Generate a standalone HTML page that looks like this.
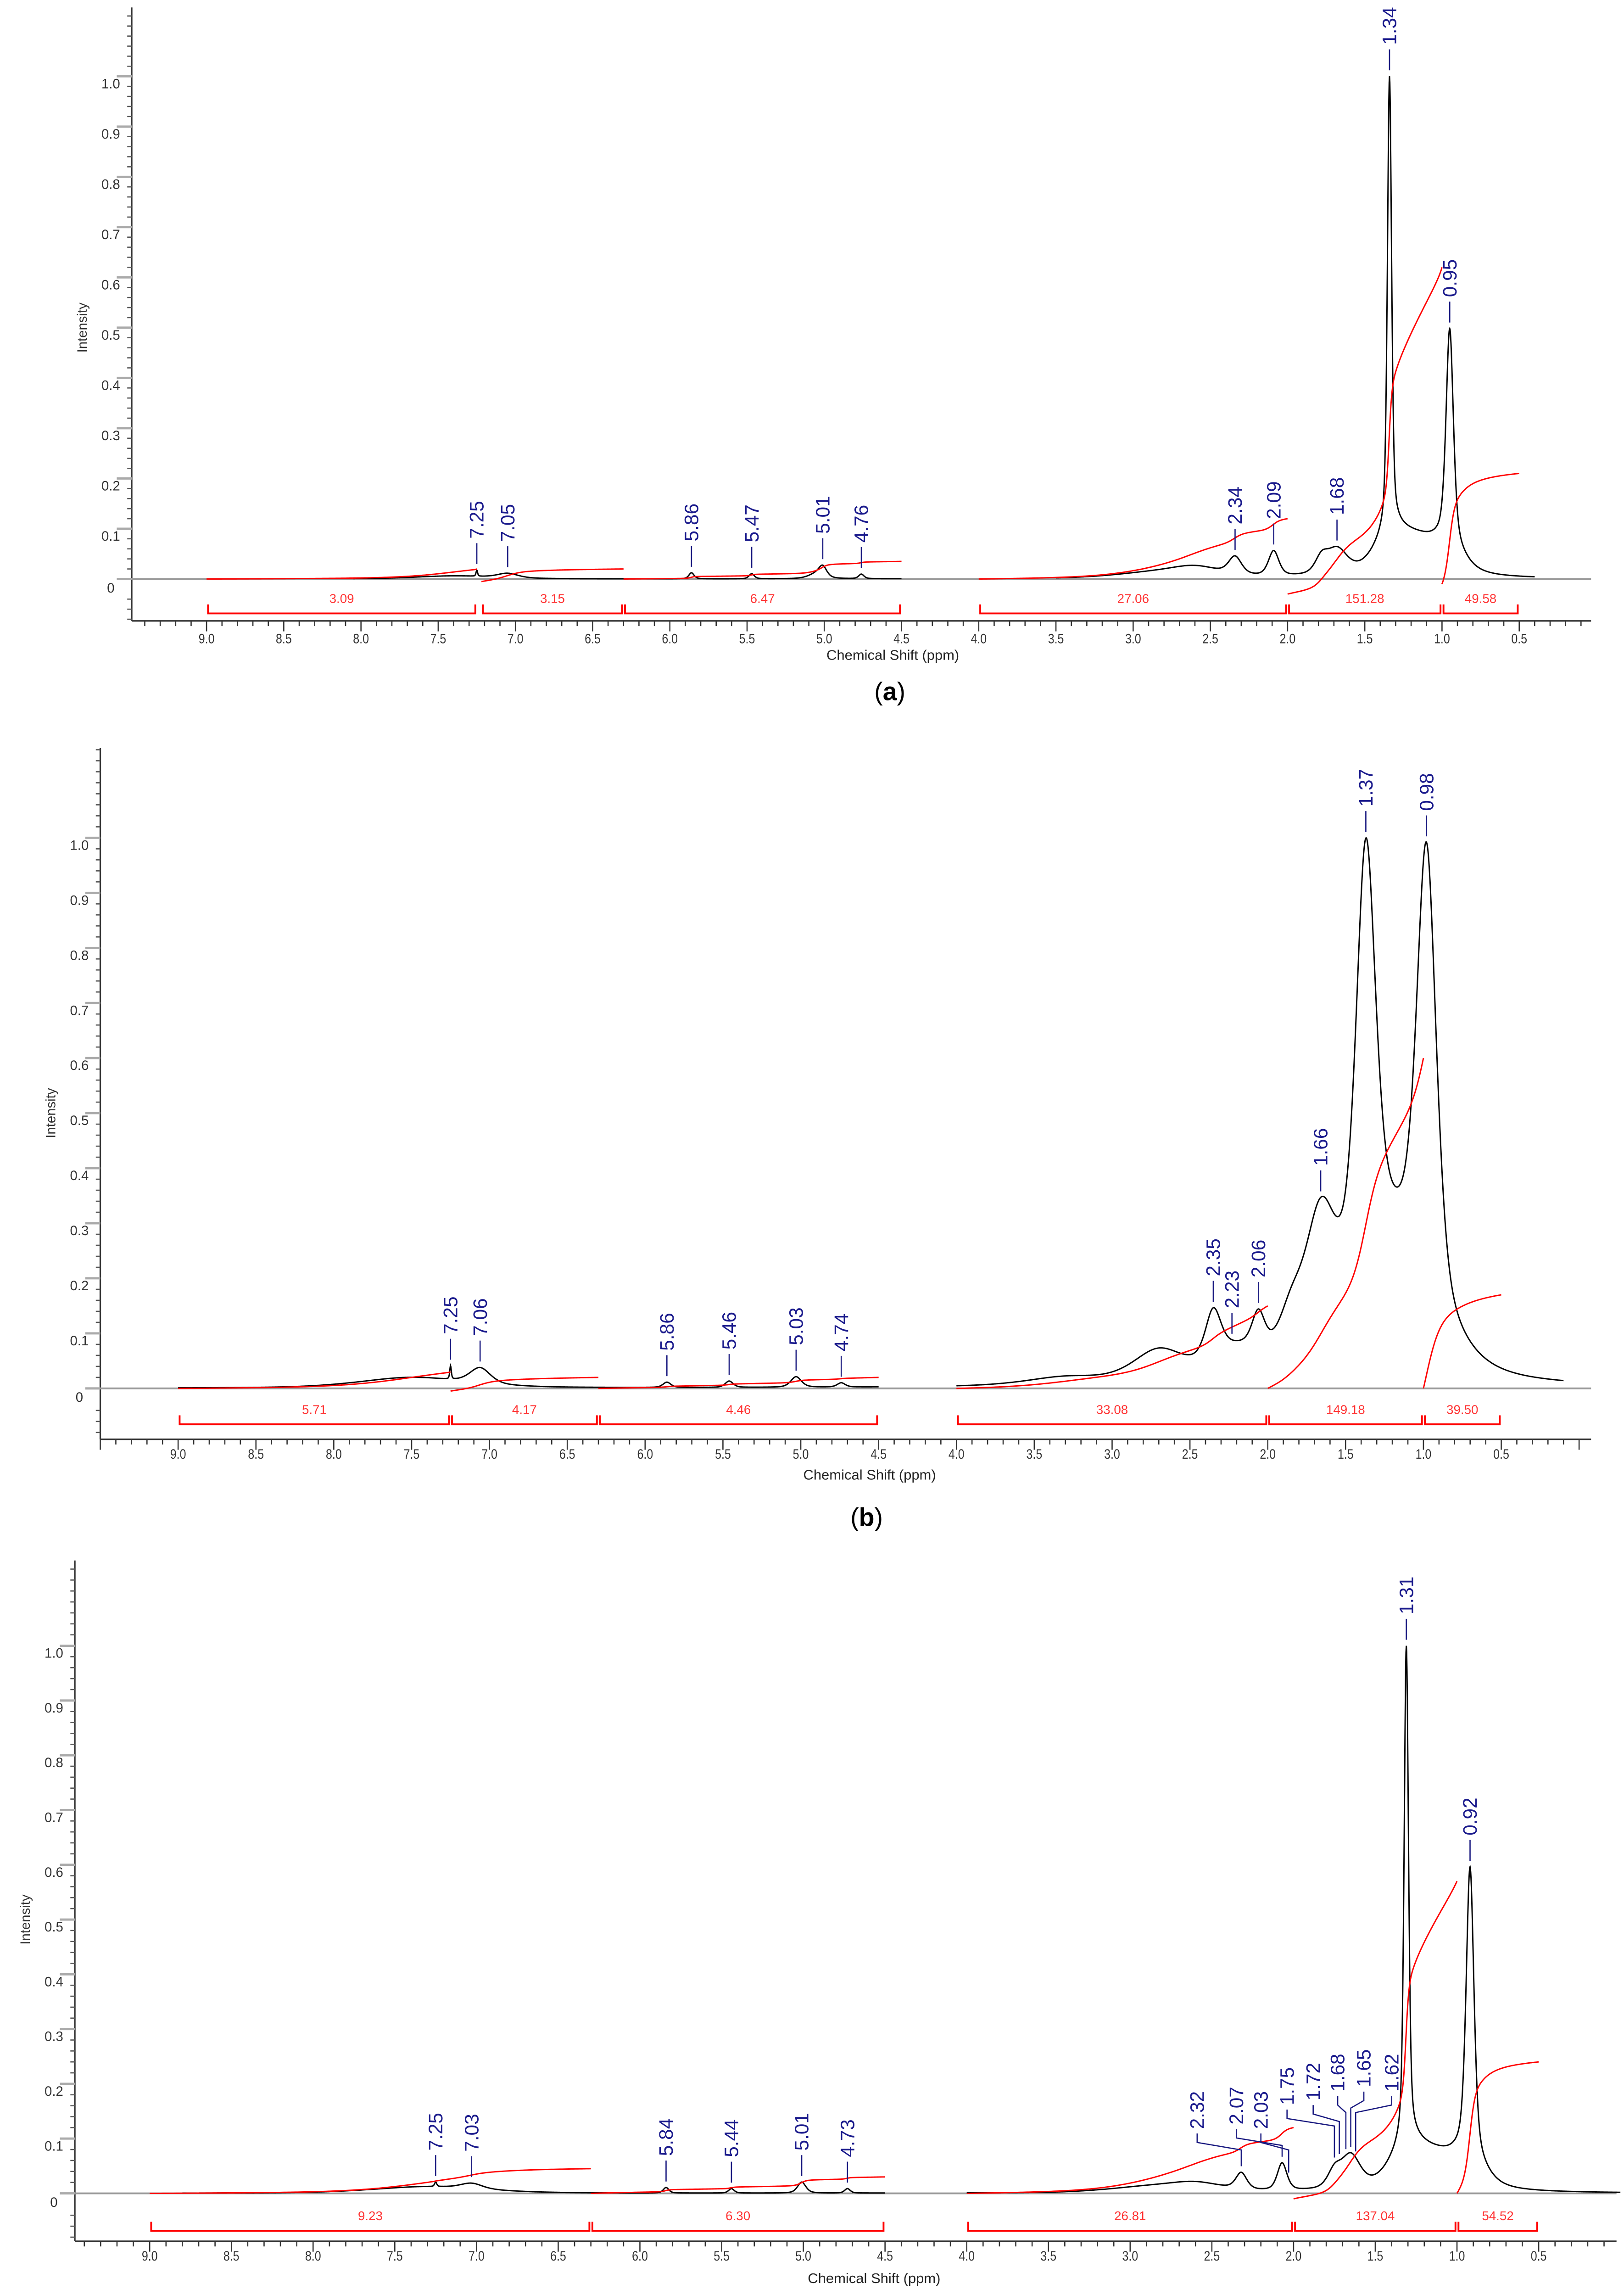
<!DOCTYPE html>
<html><head><meta charset="utf-8"><style>
html,body{margin:0;padding:0;background:#fff;width:3539px;height:5111px;overflow:hidden}
svg{display:block}
text{font-family:"Liberation Sans",sans-serif}
</style></head><body>
<svg id="fig" width="3539" height="5111" viewBox="0 0 1085 1568" preserveAspectRatio="none" xmlns="http://www.w3.org/2000/svg"></svg>
<script>
// ---------- DATA ----------
const xTicks=[9.0,8.5,8.0,7.5,7.0,6.5,6.0,5.5,5.0,4.5,4.0,3.5,3.0,2.5,2.0,1.5,1.0,0.5];
const yTicks=[0,0.1,0.2,0.3,0.4,0.5,0.6,0.7,0.8,0.9,1.0];
// panel a
const aPeakPpm=[1.34,1.34,0.95,0.95,1.15,1.68,1.78,2.09,2.34,2.6,2.9,5.01,5.05,5.86,5.47,4.76,7.25,7.05,7.4];
const aPeakH  =[0.9,0.06,0.42,0.04,0.07,0.05,0.03,0.05,0.035,0.02,0.01,0.02,0.01,0.012,0.01,0.009,0.012,0.009,0.006];
const aPeakW  =[0.016,0.12,0.028,0.1,0.2,0.08,0.05,0.04,0.05,0.2,0.3,0.03,0.06,0.02,0.02,0.02,0.006,0.08,0.3];
const aRegions=[[9.0,7.25],[7.22,6.3],[6.3,4.5],[4.0,2.0],[2.0,1.0],[1.0,0.5]];
const aIntLabels=["3.09","3.15","6.47","27.06","151.28","49.58"];
const aIntStart=[0,-0.005,0,0,-0.03,-0.01];
const aIntEnd=[0.02,0.02,0.035,0.12,0.62,0.21];
const aLabels=["7.25","7.05","5.86","5.47","5.01","4.76","2.34","2.09","1.68","1.34","0.95"];
const aLabelPpm=[7.25,7.05,5.86,5.47,5.01,4.76,2.34,2.09,1.68,1.34,0.95];
// panel b
const bPeakPpm=[1.37,0.98,1.2,1.66,1.85,2.06,2.35,2.2,2.7,3.3,7.25,7.06,7.5,5.86,5.46,5.03,4.74];
const bPeakH  =[0.8,0.84,0.26,0.25,0.08,0.07,0.09,0.05,0.06,0.015,0.025,0.03,0.02,0.01,0.012,0.02,0.008];
const bPeakW  =[0.075,0.075,0.3,0.12,0.1,0.05,0.06,0.2,0.2,0.3,0.006,0.08,0.4,0.03,0.03,0.04,0.03];
const bRegions=[[9.0,7.25],[7.25,6.3],[6.3,4.5],[4.0,2.0],[2.0,1.0],[1.0,0.5]];
const bIntLabels=["5.71","4.17","4.46","33.08","149.18","39.50"];
const bIntStart=[0,-0.005,0,0,0,0];
const bIntEnd=[0.03,0.02,0.02,0.15,0.6,0.17];
const bLabels=["7.25","7.06","5.86","5.46","5.03","4.74","2.35","2.23","2.06","1.66","1.37","0.98"];
const bLabelPpm=[7.25,7.06,5.86,5.46,5.03,4.74,2.35,2.23,2.06,1.66,1.37,0.98];
// panel c
const cPeakPpm=[1.31,1.31,0.92,0.92,1.12,1.65,1.75,2.07,2.32,2.6,2.9,5.01,5.84,5.44,4.73,7.25,7.03,7.3];
const cPeakH  =[0.9,0.06,0.52,0.04,0.06,0.06,0.03,0.05,0.03,0.015,0.01,0.02,0.01,0.008,0.008,0.008,0.01,0.012];
const cPeakW  =[0.016,0.12,0.028,0.1,0.2,0.07,0.05,0.035,0.04,0.2,0.3,0.03,0.02,0.02,0.02,0.008,0.08,0.4];
const cRegions=[[9.0,6.3],[6.3,4.5],[4.0,2.0],[2.0,1.0],[1.0,0.5]];
const cIntLabels=["9.23","6.30","26.81","137.04","54.52"];
const cIntStart=[0,0,0,-0.01,0];
const cIntEnd=[0.045,0.03,0.12,0.57,0.24];
const cLabels=["7.25","7.03","5.84","5.44","5.01","4.73","2.32","2.07","2.03","1.75","1.72","1.68","1.65","1.62","1.31","0.92"];
const cLabelPpm=[7.25,7.03,5.84,5.44,5.01,4.73,2.32,2.07,2.03,1.75,1.72,1.68,1.65,1.62,1.31,0.92];
const cLabelTextPpm=[7.25,7.03,5.84,5.44,5.01,4.73,2.59,2.35,2.20,2.04,1.88,1.73,1.57,1.40,1.31,0.92];
const cLabelTop=[null,null,null,null,null,null,1426,1423,1426,1410,1407,1401,1398,1401,null,null];

// ---------- DRAWING ----------
const NS="http://www.w3.org/2000/svg";
const svg=document.getElementById('fig');
function mk(tag,attrs,parent){const e=document.createElementNS(NS,tag);for(const k in attrs)e.setAttribute(k,attrs[k]);(parent||svg).appendChild(e);return e;}
function specRaw(x,pp,hh,ww){let s=0;for(let i=0;i<pp.length;i++){const d=(x-pp[i])/ww[i];s+=hh[i]*(0.5/(1+d*d)+0.5*Math.exp(-0.693*d*d));}return s;}

function panel(P){
  let mx=0;for(let p=9;p>=0;p-=0.002)mx=Math.max(mx,specRaw(p,P.pp,P.hh,P.ww));
  const spec=(x)=>specRaw(x,P.pp,P.hh,P.ww)/mx;
  const g=mk('g',{});
  
  
  const X=p=>P.x9+(9-p)*(P.x05-P.x9)/8.5;
  const Y=v=>P.base-v*(P.base-P.y1);
  const pxPpm=(P.x05-P.x9)/8.5;
  const ya=mk('line',{x1:P.axX,y1:P.axTop,x2:P.axX,y2:P.axBot,stroke:'#333','stroke-width':1},g);
  
  const xa=mk('line',{x1:P.axX,y1:P.axBot,x2:P.right,y2:P.axBot,stroke:'#333','stroke-width':1},g);
  
  const pLeft=9-(P.axX-P.x9)/pxPpm, pRight=9-(P.right-P.x9)/pxPpm;
  for(let k=Math.floor(pLeft*10);k>=Math.ceil(pRight*10);k--){
    const p=k/10,x=X(p),maj=(k%5===0);
    const t=mk('line',{x1:x,y1:P.axBot,x2:x,y2:P.axBot+(maj?7:3.5),stroke:'#333','stroke-width':0.8},g);
    
  }
  xTicks.forEach(p=>{
    const t=mk('text',{x:X(p),y:P.tickY,'font-size':9,'text-anchor':'middle',fill:'#333',transform:`translate(${X(p)},${P.tickY}) scale(0.85,1) translate(${-X(p)},${-P.tickY})`},g);
    t.textContent=p.toFixed(1);
    
  });
  const tt=mk('text',{x:(P.x9+P.x05)/2+20,y:P.titleY,'font-size':9.5,'text-anchor':'middle',fill:'#222'},g);
  tt.textContent='Chemical Shift (ppm)';
  
  for(let k=0;k<=Math.floor((P.base-P.axTop)/(P.base-P.y1)*50);k++){
    const y=Y(k/50);
    const t=mk('line',{x1:P.axX-3,y1:y,x2:P.axX,y2:y,stroke:'#555','stroke-width':0.8},g);
    
  }
  for(let k=-2;k>=-4;k--){const y=Y(k/50);mk('line',{x1:P.axX-3,y1:y,x2:P.axX,y2:y,stroke:'#555','stroke-width':0.8},g);}
  yTicks.forEach(v=>{
    const y=Y(v);
    mk('line',{x1:P.axX-10,y1:y,x2:P.axX,y2:y,stroke:'#aaa','stroke-width':1.5},g);
    const t=mk('text',{x:P.axX-14,y:v===0?y+9:y+8,'font-size':9,'text-anchor':'middle',fill:'#333'},g);
    t.textContent=v===0?'0':v.toFixed(1);
    
  });
  const yl=mk('text',{x:0,y:0,'font-size':9,'text-anchor':'middle',fill:'#333',transform:`translate(${P.axX-30},${(P.y1+P.base)/2}) rotate(-90)`},g);
  yl.textContent='Intensity';
  
  mk('line',{x1:P.axX,y1:P.base,x2:P.right,y2:P.base,stroke:'#999','stroke-width':1.2},g);
  P.segs.forEach(sg=>{
    let d='';
    for(let p=sg[0];p>=sg[1];p-=0.002){d+=(d?'L':'M')+X(p).toFixed(2)+','+Y(spec(p)).toFixed(2);}
    const s=mk('path',{d:d,fill:'none',stroke:'#000','stroke-width':0.9},g);
    
  });
  P.regions.forEach((r,i)=>{
    const n=200;let cum=[0];
    for(let j=1;j<=n;j++){const p=r[0]-(r[0]-r[1])*j/n;cum.push(cum[j-1]+spec(p));}
    const tot=cum[n]||1;let d='';
    for(let j=0;j<=n;j++){const p=r[0]-(r[0]-r[1])*j/n;const v=P.is[i]+(P.ie[i]-P.is[i])*cum[j]/tot;d+=(j?'L':'M')+X(p).toFixed(2)+','+Y(v).toFixed(2);}
    const c=mk('path',{d:d,fill:'none',stroke:'#f00','stroke-width':0.9},g);
    
    const x1=X(r[0])+1,x2=X(r[1])-1;
    const b=mk('path',{d:`M${x1},${P.barY-6}V${P.barY}H${x2}V${P.barY-6}`,fill:'none',stroke:'#f00','stroke-width':1.2},g);
    
    const l=mk('text',{x:(x1+x2)/2,y:P.barY-7,'font-size':8.5,'text-anchor':'middle',fill:'#f33'},g);
    l.textContent=P.intLabels[i];
    
  });
  P.labels.forEach((lb,i)=>{
    const p=P.lp[i],tp=P.ltp?P.ltp[i]:p;
    const bottom=Y(spec(p))-4;
    const lineTop=(P.labelTop&&P.labelTop[i]!==null&&P.labelTop[i]!==undefined)?P.labelTop[i]:bottom-14;
    let d;
    if(tp!==p){d=`M${X(tp)},${lineTop}V${lineTop+6}L${X(p)},${lineTop+11}V${bottom}`;}
    else d=`M${X(p)},${lineTop}V${bottom}`;
    const ln=mk('path',{d:d,fill:'none',stroke:'#1a1a80','stroke-width':0.8},g);
    
    const t=mk('text',{x:0,y:0,'font-size':13,fill:'#1a1a8c',transform:`translate(${X(tp)+4.5},${lineTop-3}) rotate(-90)`},g);
    t.textContent=lb;
    
  });
  const cap=mk('text',{x:(P.x9+P.x05)/2+18,y:P.capY,'font-size':17,'text-anchor':'middle',fill:'#000','font-family':'Liberation Serif, serif'},g);
  cap.innerHTML='(<tspan font-weight="bold">'+P.cap+'</tspan>)';
  
}

panel({name:'panel-a',cap:'a',axX:88,axTop:5,axBot:415,base:387,y1:51,x9:138,x05:1015,right:1063,tickY:430,titleY:441,capY:468,barY:410,
  pp:aPeakPpm,hh:aPeakH,ww:aPeakW,segs:[[8.05,4.5],[3.5,0.4]],regions:aRegions,intLabels:aIntLabels,is:aIntStart,ie:aIntEnd,labels:aLabels,lp:aLabelPpm});
panel({name:'panel-b',cap:'b',axX:67,axTop:500,axBot:962,base:928,y1:560,x9:119,x05:1003,right:1063,tickY:975,titleY:989,capY:1020,barY:952,
  pp:bPeakPpm,hh:bPeakH,ww:bPeakW,segs:[[9.0,4.5],[4.0,0.1]],regions:bRegions,intLabels:bIntLabels,is:bIntStart,ie:bIntEnd,labels:bLabels,lp:bLabelPpm});
panel({name:'panel-c',cap:'c',axX:50,axTop:1043,axBot:1498,base:1466,y1:1100,x9:100,x05:1028,right:1080,tickY:1511,titleY:1526,capY:1556,barY:1491,
  pp:cPeakPpm,hh:cPeakH,ww:cPeakW,segs:[[8.8,4.5],[4.0,0.0]],regions:cRegions,intLabels:cIntLabels,is:cIntStart,ie:cIntEnd,labels:cLabels,lp:cLabelPpm,ltp:cLabelTextPpm,
  labelTop:cLabelTop});
</script>
</body></html>
